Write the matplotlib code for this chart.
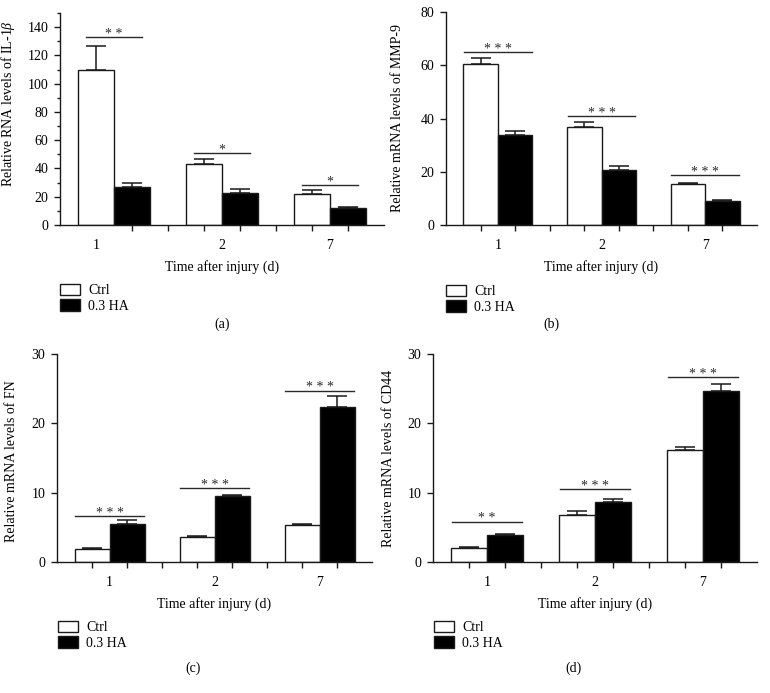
import matplotlib
matplotlib.use('Agg')
import matplotlib.pyplot as plt
from matplotlib.patches import Patch
import numpy as np

plt.rcParams['font.family'] = ['Liberation Serif', 'DejaVu Serif']
plt.rcParams['mathtext.fontset'] = 'custom'
plt.rcParams['mathtext.rm'] = 'Liberation Serif'
plt.rcParams['mathtext.it'] = 'Liberation Serif:italic'

# Data
days = ['1', '2', '7']
groups = ['Ctrl', '0.3 HA']

il1b_ctrl = [110, 43, 22]
il1b_ctrl_err = [17, 3.5, 2.5]
il1b_ha = [27, 22.5, 12]
il1b_ha_err = [3, 3, 0.5]
il1b_sig = ['* *', '*', '*']
il1b_sig_y = [133, 51, 28.3]

mmp9_ctrl = [60.4, 36.8, 15.3]
mmp9_ctrl_err = [2.5, 1.7, 0.4]
mmp9_ha = [33.7, 20.7, 9.0]
mmp9_ha_err = [1.6, 1.5, 0.3]
mmp9_sig = ['* * *', '* * *', '* * *']
mmp9_sig_y = [65, 41, 18.8]

fn_ctrl = [1.94, 3.6, 5.3]
fn_ctrl_err = [0.1, 0.1, 0.15]
fn_ha = [5.5, 9.5, 22.4]
fn_ha_err = [0.5, 0.2, 1.6]
fn_sig = ['* * *', '* * *', '* * *']
fn_sig_y = [6.6, 10.7, 24.7]

cd44_ctrl = [2.0, 6.8, 16.1]
cd44_ctrl_err = [0.15, 0.5, 0.5]
cd44_ha = [3.9, 8.7, 24.6]
cd44_ha_err = [0.2, 0.4, 1.1]
cd44_sig = ['* *', '* * *', '* * *']
cd44_sig_y = [5.8, 10.5, 26.7]

W, H = 770, 693
fig = plt.figure(figsize=(W / 100, H / 100), dpi=100)

def px_box(left, top, right, bottom):
    return [left / W, 1 - bottom / H, (right - left) / W, (bottom - top) / H]

panels = [
    dict(box=px_box(60, 13, 384, 225), ctrl=il1b_ctrl, ctrl_err=il1b_ctrl_err,
         ha=il1b_ha, ha_err=il1b_ha_err, sig=il1b_sig, sig_y=il1b_sig_y,
         ylim=150, major=20, minor=10, span=0.78,
         ylabel=r'Relative RNA levels of IL-1$\it{\beta}$', ylab_pos=(-0.133, 0.575),
         lab_x=[0, 3.5, 6.5], leg=(60, 284), tag='(a)', tag_pos=(222, 324)),
    dict(box=px_box(446, 12, 757, 225), ctrl=mmp9_ctrl, ctrl_err=mmp9_ctrl_err,
         ha=mmp9_ha, ha_err=mmp9_ha_err, sig=mmp9_sig, sig_y=mmp9_sig_y,
         ylim=80, major=20, minor=None, span=0.98,
         ylabel='Relative mRNA levels of MMP-9', ylab_pos=(-0.135, 0.5),
         lab_x=[0.5, 3.5, 6.5], leg=(446, 285), tag='(b)', tag_pos=(551, 324)),
    dict(box=px_box(57, 354, 372, 562), ctrl=fn_ctrl, ctrl_err=fn_ctrl_err,
         ha=fn_ha, ha_err=fn_ha_err, sig=fn_sig, sig_y=fn_sig_y,
         ylim=30, major=10, minor=None, span=0.98,
         ylabel='Relative mRNA levels of FN', ylab_pos=(-0.124, 0.486),
         lab_x=[0.5, 3.5, 6.5], leg=(58, 621), tag='(c)', tag_pos=(193, 668)),
    dict(box=px_box(433, 354, 757, 562), ctrl=cd44_ctrl, ctrl_err=cd44_ctrl_err,
         ha=cd44_ha, ha_err=cd44_ha_err, sig=cd44_sig, sig_y=cd44_sig_y,
         ylim=30, major=10, minor=None, span=0.98,
         ylabel='Relative mRNA levels of CD44', ylab_pos=(-0.117, 0.5),
         lab_x=[0.5, 3.5, 6.5], leg=(434, 621), tag='(d)', tag_pos=(574, 668)),
]

fs = 10
ink = '#1a1a1a'
x_ctrl = np.arange(len(days)) * 3
x_ha = x_ctrl + 1

for p in panels:
    ax = fig.add_axes(p['box'])

    # Plotting
    ax.bar(x_ctrl, p['ctrl'], width=1, color='white', edgecolor=ink, linewidth=1, zorder=2)
    ax.bar(x_ha, p['ha'], width=1, color='black', edgecolor=ink, linewidth=1, zorder=2)
    ax.errorbar(x_ctrl, p['ctrl'], yerr=[np.zeros(3), p['ctrl_err']], fmt='none',
                ecolor=ink, elinewidth=1.1, capsize=7, capthick=1.1, zorder=3)
    ax.errorbar(x_ha, p['ha'], yerr=[np.zeros(3), p['ha_err']], fmt='none',
                ecolor=ink, elinewidth=1.1, capsize=7, capthick=1.1, zorder=3)

    # Significance bars
    centers = x_ctrl + 0.5
    for c, y, s in zip(centers, p['sig_y'], p['sig']):
        ax.plot([c - p['span'], c + p['span']], [y, y], color='#2a2a2a', lw=1, clip_on=False)
        ax.annotate(s, (c, y), xytext=(0, -0.5), textcoords='offset points',
                    ha='center', va='baseline', fontsize=10, color='#2a2a2a')

    # Customization
    ax.set_xlim(-1, 8)
    ax.set_ylim(0, p['ylim'])
    ax.spines['top'].set_visible(False)
    ax.spines['right'].set_visible(False)
    for sp in ('left', 'bottom'):
        ax.spines[sp].set_color(ink)
        ax.spines[sp].set_linewidth(1)

    ax.set_xticks(p['lab_x'])
    ax.set_xticklabels(days, fontsize=fs)
    ax.set_xticks(np.arange(8), minor=True)
    ax.tick_params(axis='x', which='major', length=0, pad=10)
    ax.tick_params(axis='x', which='minor', length=4.5, width=1, color=ink, direction='out')

    ax.set_yticks(np.arange(0, p['ylim'] + 1, p['major']))
    if p['minor']:
        ax.set_yticks(np.arange(0, p['ylim'] + 1, p['minor']), minor=True)
    ax.tick_params(axis='y', which='major', length=4.5, width=1, color=ink, labelsize=fs, pad=4)
    ax.tick_params(axis='y', which='minor', length=2.5, width=1, color=ink)

    ax.set_xlabel('Time after injury (d)', fontsize=fs, labelpad=6)
    ax.set_ylabel(p['ylabel'], fontsize=fs)
    ax.yaxis.set_label_coords(*p['ylab_pos'])

    handles = [Patch(facecolor='white', edgecolor=ink, linewidth=1),
               Patch(facecolor='black', edgecolor=ink, linewidth=1)]
    fig.legend(handles, groups, loc='upper left',
               bbox_to_anchor=(p['leg'][0] / W, 1 - p['leg'][1] / H),
               frameon=False, borderpad=0, borderaxespad=0, fontsize=fs,
               handlelength=1.45, handleheight=0.85, handletextpad=0.6, labelspacing=0.15)

    fig.text(p['tag_pos'][0] / W, 1 - p['tag_pos'][1] / H, p['tag'],
             ha='center', va='center', fontsize=fs)

fig.savefig('out.png', dpi=100)
